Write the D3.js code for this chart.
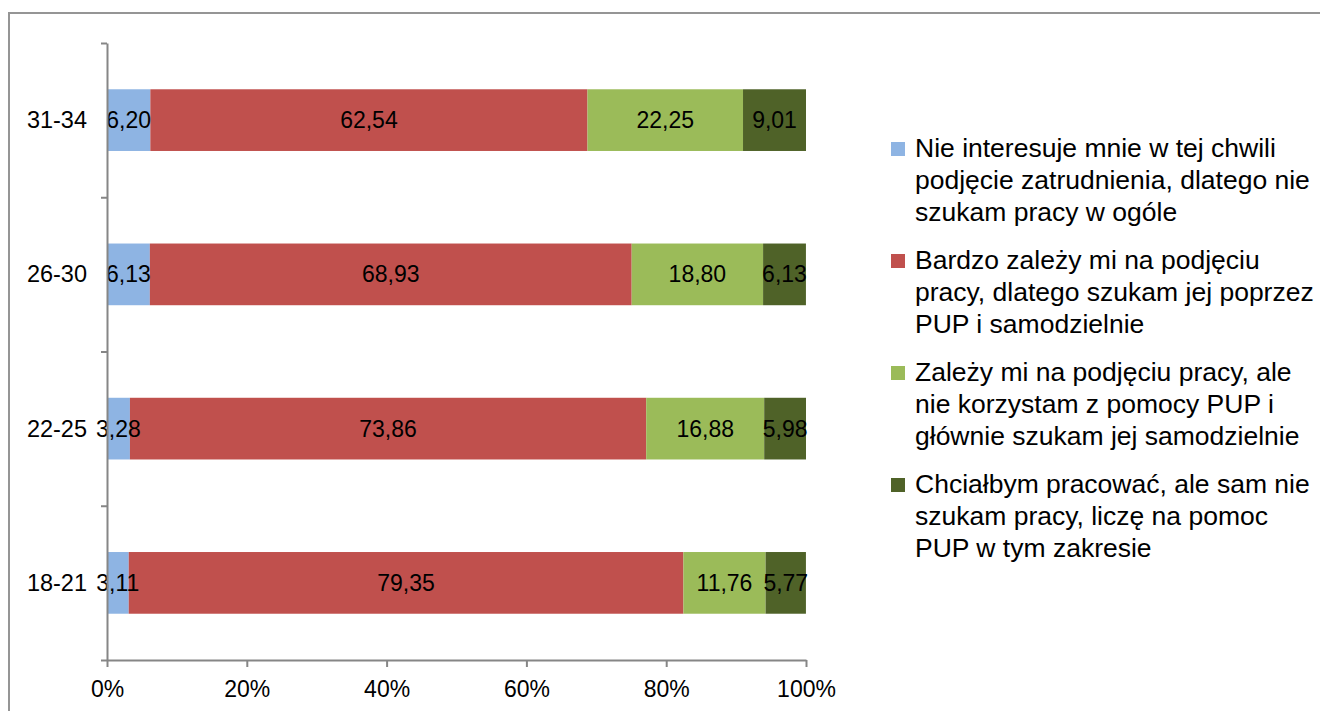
<!DOCTYPE html>
<html>
<head>
<meta charset="utf-8">
<script src="https://cdn.jsdelivr.net/npm/d3@7"></script>
<style>
  body { margin: 0; background: #fff; }
  svg { display: block; font-family: "Liberation Sans", Arial, sans-serif; }
</style>
</head>
<body>
<svg id="chart"></svg>
<script>
// DATA
const categories = ["31-34", "26-30", "22-25", "18-21"];
const seriesNames = [
  "Nie interesuje mnie w tej chwili podjęcie zatrudnienia, dlatego nie szukam pracy w ogóle",
  "Bardzo zależy mi na podjęciu pracy, dlatego szukam jej poprzez PUP i samodzielnie",
  "Zależy mi na podjęciu pracy, ale nie korzystam z pomocy PUP i głównie szukam jej samodzielnie",
  "Chciałbym pracować, ale sam nie szukam pracy, liczę na pomoc PUP w tym zakresie"
];
// legend lines as wrapped in the original
const legendLines = [
  ["Nie interesuje mnie w tej chwili", "podjęcie zatrudnienia, dlatego nie", "szukam pracy w ogóle"],
  ["Bardzo zależy mi na podjęciu", "pracy, dlatego szukam jej poprzez", "PUP i samodzielnie"],
  ["Zależy mi na podjęciu pracy, ale", "nie korzystam z pomocy PUP i", "głównie szukam jej samodzielnie"],
  ["Chciałbym pracować, ale sam nie", "szukam pracy, liczę na pomoc", "PUP w tym zakresie"]
];
const notInterested = [6.20, 6.13, 3.28, 3.11];
const veryKeen = [62.54, 68.93, 73.86, 79.35];
const keenAlone = [22.25, 18.80, 16.88, 11.76];
const waitForPup = [9.01, 6.13, 5.98, 5.77];
const xTicks = [0, 20, 40, 60, 80, 100];
const colors = ["#8EB4E3", "#C0504D", "#9BBB59", "#4F6228"];

const width = 1320, height = 711;
const margin = { top: 43, left: 107, right: 1320 - 806, bottom: 711 - 660 };

const svg = d3.select("#chart").attr("width", width).attr("height", height);

// outer frame (runs off right and bottom)
svg.append("rect")
  .attr("x", 9).attr("y", 13)
  .attr("width", 1400).attr("height", 800)
  .attr("fill", "none").attr("stroke", "#959595").attr("stroke-width", 2);

// + SCALES
const xScale = d3.scaleLinear()
  .domain([0, 100])
  .range([margin.left, width - margin.right]);

const yScale = d3.scaleBand()
  .domain(categories)
  .range([margin.top, height - margin.bottom])
  .paddingInner(0.6)
  .paddingOuter(0.3);

// boundary scale for y ticks between categories
const yEdge = d3.scaleLinear()
  .domain([0, categories.length])
  .range([margin.top, height - margin.bottom]);

// stacked data
const table = categories.map((c, i) => ({
  cat: c, s0: notInterested[i], s1: veryKeen[i], s2: keenAlone[i], s3: waitForPup[i]
}));
const stack = d3.stack().keys(["s0", "s1", "s2", "s3"]);
const series = stack(table);

// + BARS
const groups = svg.selectAll(".series")
  .data(series)
  .join("g")
  .attr("class", "series")
  .attr("fill", (d, i) => colors[i]);

groups.selectAll("rect")
  .data(d => d)
  .join("rect")
  .attr("x", d => xScale(d[0]))
  .attr("y", d => yScale(d.data.cat))
  .attr("width", d => xScale(d[1]) - xScale(d[0]))
  .attr("height", yScale.bandwidth());

// + DATA LABELS
const fmt = v => v.toFixed(2).replace(".", ",");
svg.selectAll(".series-labels")
  .data(series)
  .join("g")
  .attr("class", "series-labels")
  .selectAll("text")
  .data(d => d.map(p => ({ p, key: d.key })))
  .join("text")
  .attr("x", d => (xScale(d.p[0]) + xScale(d.p[1])) / 2)
  .attr("y", d => yScale(d.p.data.cat) + yScale.bandwidth() / 2)
  .attr("text-anchor", "middle")
  .attr("dominant-baseline", "central")
  .attr("font-size", 23)
  .attr("fill", "#000")
  .text(d => fmt(d.p.data[d.key]));

// + AXES
const axisColor = "#868686";

const yAxisGroup = svg.append("g")
  .attr("transform", `translate(${margin.left}, 0)`)
  .call(d3.axisLeft(yEdge).ticks(categories.length).tickSize(6).tickSizeOuter(0).tickFormat(""));

const xAxisGroup = svg.append("g")
  .attr("transform", `translate(0, ${height - margin.bottom})`)
  .call(d3.axisBottom(xScale).tickValues(xTicks).tickSize(7).tickSizeOuter(0).tickFormat(d => d + "%"));

[yAxisGroup, xAxisGroup].forEach(g => {
  g.select(".domain").attr("stroke", axisColor).attr("stroke-width", 2);
  g.selectAll(".tick line").attr("stroke", axisColor).attr("stroke-width", 2);
});

xAxisGroup.selectAll(".tick text")
  .attr("font-size", 23)
  .attr("font-family", "Liberation Sans, Arial, sans-serif")
  .attr("fill", "#000")
  .attr("dy", null)
  .attr("y", 29)
  .attr("dominant-baseline", "central");

// category labels
svg.selectAll(".cat-label")
  .data(categories)
  .join("text")
  .attr("class", "cat-label")
  .attr("x", 87)
  .attr("y", d => yScale(d) + yScale.bandwidth() / 2)
  .attr("text-anchor", "end")
  .attr("dominant-baseline", "central")
  .attr("font-size", 23.5)
  .text(d => d);

// + LEGEND
const legend = svg.selectAll(".legend-item")
  .data(seriesNames)
  .join("g")
  .attr("class", "legend-item")
  .attr("transform", (d, i) => `translate(891, ${148 + i * 112})`);

legend.append("rect")
  .attr("x", 0).attr("y", -6)
  .attr("width", 14).attr("height", 14)
  .attr("fill", (d, i) => colors[i]);

legend.append("text")
  .attr("font-size", 26.5)
  .attr("fill", "#000")
  .selectAll("tspan")
  .data((d, i) => legendLines[i])
  .join("tspan")
  .attr("x", 24)
  .attr("y", (d, j) => j * 32)
  .attr("dominant-baseline", "central")
  .text(d => d);
</script>
</body>
</html>
